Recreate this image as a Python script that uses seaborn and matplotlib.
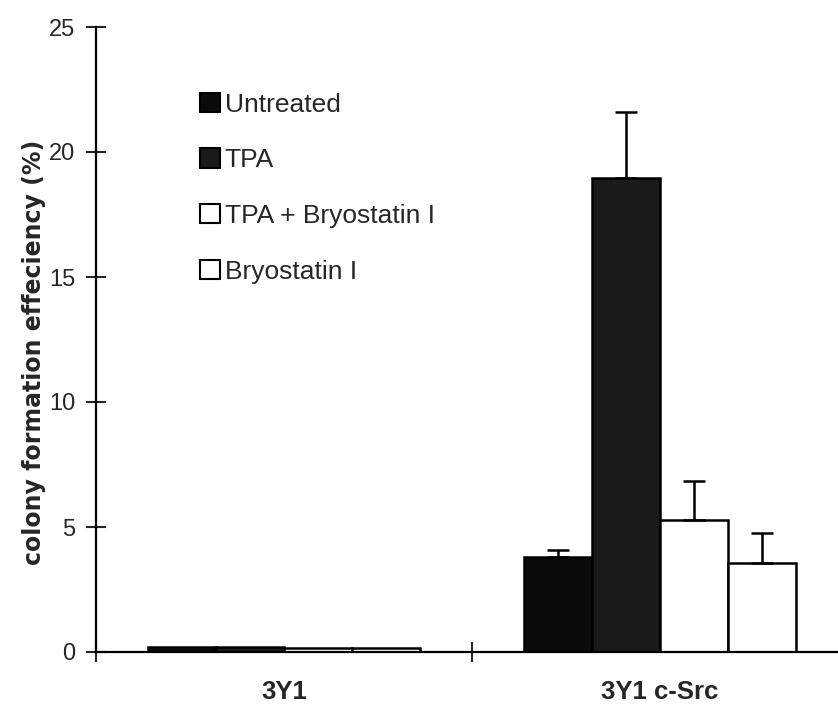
import matplotlib
matplotlib.use("Agg")
import matplotlib.pyplot as plt
import seaborn as sns
import pandas as pd
import numpy as np
from matplotlib.patches import Patch

cell_lines = ["3Y1", "3Y1 c-Src"]
treatments = ["Untreated", "TPA", "TPA + Bryostatin I", "Bryostatin I"]
values_3y1 = [0.2, 0.2, 0.15, 0.15]
values_csrc = [3.8, 18.95, 5.3, 3.55]
errors_3y1 = [0.0, 0.0, 0.0, 0.0]
errors_csrc = [0.3, 2.65, 1.55, 1.2]

rows = []
for t, v, e in zip(treatments, values_3y1, errors_3y1):
    rows.append({"line": cell_lines[0], "treatment": t, "value": v, "err": e})
for t, v, e in zip(treatments, values_csrc, errors_csrc):
    rows.append({"line": cell_lines[1], "treatment": t, "value": v, "err": e})
df = pd.DataFrame(rows)

sns.set_style("white")
plt.rcParams["font.family"] = ["Liberation Sans", "DejaVu Sans"]

fig = plt.figure(figsize=(8.38, 7.06), dpi=100)
ax = fig.add_axes([96/838, 54/706, 752/838, 625/706])

palette = {"Untreated": "#0a0a0a", "TPA": "#1a1a1a",
           "TPA + Bryostatin I": "white", "Bryostatin I": "white"}
sns.barplot(data=df, x="line", y="value", hue="treatment", order=cell_lines,
            hue_order=treatments, palette=palette, width=0.726, ax=ax,
            edgecolor="black", linewidth=1.8, errorbar=None, legend=False, saturation=1)

# error bars (upward only)
for container, t in zip(ax.containers, treatments):
    for bar, line in zip(container, cell_lines):
        sub = df[(df.line == line) & (df.treatment == t)]
        e = float(sub.err.iloc[0])
        if e > 0:
            xc = bar.get_x() + bar.get_width() / 2
            h = bar.get_height()
            ax.errorbar([xc], [h], yerr=[[0], [e]], fmt="none", ecolor="black",
                        elinewidth=1.8, capsize=8, capthick=1.8, zorder=3)

ax.set_xlim(-0.5, 1.5)
ax.set_ylim(0, 25)
ax.set_yticks([0, 5, 10, 15, 20, 25])
ax.set_xticks([0, 1])
ax.set_xticklabels(cell_lines, fontsize=18.5, fontweight="bold")
ax.set_xticks([-0.5, 0.5, 1.5], minor=True)
ax.tick_params(axis="x", which="major", bottom=False, length=0, pad=20)
ax.tick_params(axis="x", which="minor", bottom=True, length=14, direction="inout", width=1.5)
ax.tick_params(axis="y", left=True, length=14, direction="inout", width=1.5, labelsize=17, pad=8)
ax.set_xlabel("")
ax.set_ylabel("colony formation effeciency (%)", fontsize=17, fontweight="bold",
              family=["DejaVu Sans"])
ax.yaxis.set_label_coords(-0.066, 0.48)
for s in ["top", "right"]:
    ax.spines[s].set_visible(False)
for s in ["left", "bottom"]:
    ax.spines[s].set_linewidth(1.6)
    ax.spines[s].set_color("black")

handles = [Patch(facecolor=palette[t], edgecolor="black", linewidth=1.5) for t in treatments]
leg = ax.legend(handles, treatments, loc="upper left", bbox_to_anchor=(0.138, 0.895),
                frameon=False, fontsize=19, handlelength=0.75, handleheight=0.75,
                handletextpad=0.2, labelspacing=1.2, borderpad=0, borderaxespad=0)

fig.savefig("out.png", dpi=100)
